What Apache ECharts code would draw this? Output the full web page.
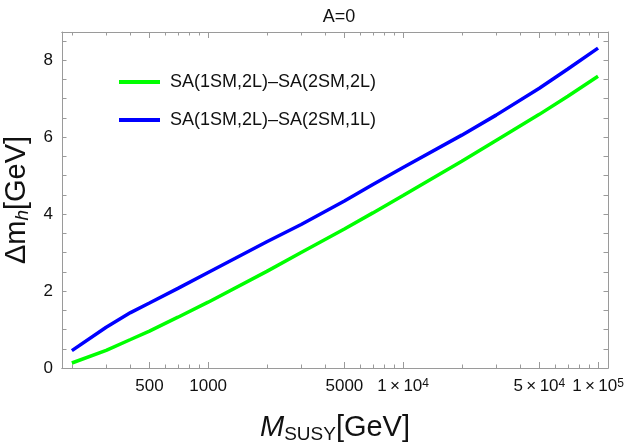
<!DOCTYPE html>
<html>
<head>
<meta charset="utf-8">
<title>A=0</title>
<script src="https://cdn.jsdelivr.net/npm/echarts@6/dist/echarts.min.js"></script>
</head>
<body style="margin:0;background:#fff">
<div id="main" style="width:625px;height:444px"></div>
<script>
// M_SUSY [GeV]
var msusy = [200, 300, 400, 500, 700, 1000, 2000, 3000, 5000, 7000, 1e4, 2e4, 3e4, 5e4, 7e4, 1e5];
// delta m_h [GeV]
var green22 = [0.13, 0.46, 0.74, 0.96, 1.32, 1.71, 2.51, 3.00, 3.61, 4.03, 4.48, 5.37, 5.91, 6.59, 7.06, 7.58];
var blue21 = [0.45, 1.06, 1.44, 1.69, 2.07, 2.48, 3.28, 3.73, 4.34, 4.77, 5.21, 6.05, 6.57, 7.27, 7.77, 8.31];
var names = ['SA(1SM,2L)\u2013SA(2SM,2L)', 'SA(1SM,2L)\u2013SA(2SM,1L)'];

var xMajor = [500, 1000, 5000, 1e4, 5e4, 1e5];
var xMinor = [200, 300, 400, 600, 700, 800, 900, 2000, 3000, 4000, 6000, 7000, 8000, 9000,
              2e4, 3e4, 4e4, 6e4, 7e4, 8e4, 9e4];
var yLabels = [0, 2, 4, 6, 8];
var yTicks = [0, 0.5, 1, 1.5, 2, 2.5, 3, 3.5, 4, 4.5, 5, 5.5, 6, 6.5, 7, 7.5, 8, 8.5];

var FONT = 'Liberation Sans, Arial, sans-serif';
var frame = '#9a9a9a';

function pairs(xs, ys) {
    var res = [];
    for (var i = 0; i < xs.length; i++) res.push([xs[i], ys[i]]);
    return res;
}

function xLabel(v) {
    if (v < 1e4) return String(Math.round(v));
    var e = Math.floor(Math.log10(v) + 1e-9);
    var m = Math.round(v / Math.pow(10, e));
    return m + '\u2009\u00d7\u200910{p|' + e + '}';
}

function xAxisOf(pos, ticks, len, withLabels) {
    return {
        type: 'log', logBase: 10, position: pos, min: 178, max: 112500,
        axisLine: { show: true, lineStyle: { color: frame, width: 1 } },
        axisTick: { show: true, inside: true, length: len, customValues: ticks,
                    lineStyle: { color: frame } },
        axisLabel: withLabels ? {
            show: true, customValues: xMajor, formatter: xLabel, margin: 10,
            color: '#111', fontFamily: FONT, fontSize: 17,
            rich: { p: { fontSize: 12, verticalAlign: 'top', lineHeight: 15, fontFamily: FONT, color: '#111' } }
        } : { show: false },
        splitLine: { show: false },
        minorTick: { show: false }
    };
}

function yAxisOf(pos, withLabels) {
    return {
        type: 'value', position: pos, min: 0, max: 8.73,
        axisLine: { show: true, lineStyle: { color: frame, width: 1 } },
        axisTick: { show: true, inside: true, length: 4.5, customValues: yTicks,
                    lineStyle: { color: frame } },
        axisLabel: withLabels ? {
            show: true, customValues: yLabels, margin: 9,
            color: '#111', fontFamily: FONT, fontSize: 17
        } : { show: false },
        splitLine: { show: false }
    };
}

var chart = echarts.init(document.getElementById('main'));

var xs = [
    xAxisOf('bottom', xMajor, 6, true),
    xAxisOf('bottom', xMinor, 3.5, false),
    xAxisOf('top', xMajor, 6, false),
    xAxisOf('top', xMinor, 3.5, false)
];
xs[0].name = '{m|M}{s|SUSY}{g|[GeV]}';
xs[0].nameLocation = 'middle';
xs[0].nameGap = 44;
xs[0].nameTextStyle = {
    rich: {
        m: { fontSize: 29, fontStyle: 'italic', fontFamily: FONT, color: '#111', lineHeight: 32 },
        s: { fontSize: 19, fontFamily: FONT, color: '#111', verticalAlign: 'bottom', lineHeight: 20 },
        g: { fontSize: 29, fontFamily: FONT, color: '#111', lineHeight: 32 }
    }
};

var ys = [yAxisOf('left', true), yAxisOf('right', false)];
ys[0].name = '{g|\u0394m}{s|h}{g|[GeV]}';
ys[0].nameLocation = 'middle';
ys[0].nameRotate = 90;
ys[0].nameGap = 24;
ys[0].nameTextStyle = {
    rich: {
        g: { fontSize: 29, fontFamily: FONT, color: '#111', lineHeight: 32 },
        s: { fontSize: 19, fontStyle: 'italic', fontFamily: FONT, color: '#111', verticalAlign: 'bottom', lineHeight: 20 }
    }
};

var option = {
    backgroundColor: '#fff',
    animation: false,
    title: {
        text: 'A=0', left: 334, top: 3, textAlign: 'center',
        textStyle: { fontFamily: FONT, fontSize: 18, fontWeight: 'normal', color: '#111' }
    },
    grid: { left: 62, right: 17, top: 32, bottom: 76, outerBoundsMode: 'none', containLabel: false },
    legend: {
        orient: 'vertical', left: 119, top: 73, padding: 0,
        icon: 'rect', itemWidth: 41, itemHeight: 4, itemGap: 20,
        data: names,
        textStyle: { fontFamily: FONT, fontSize: 18, color: '#111', padding: [0, 0, 0, 5] }
    },
    xAxis: xs,
    yAxis: ys,
    series: [
        {
            name: names[0], type: 'line', xAxisIndex: 0, yAxisIndex: 0,
            data: pairs(msusy, green22), showSymbol: false,
            lineStyle: { color: '#00ff00', width: 3.5 }, itemStyle: { color: '#00ff00' }
        },
        {
            name: names[1], type: 'line', xAxisIndex: 0, yAxisIndex: 0,
            data: pairs(msusy, blue21), showSymbol: false,
            lineStyle: { color: '#0000ff', width: 3.5 }, itemStyle: { color: '#0000ff' }
        }
    ]
};
chart.setOption(option);
</script>
</body>
</html>
